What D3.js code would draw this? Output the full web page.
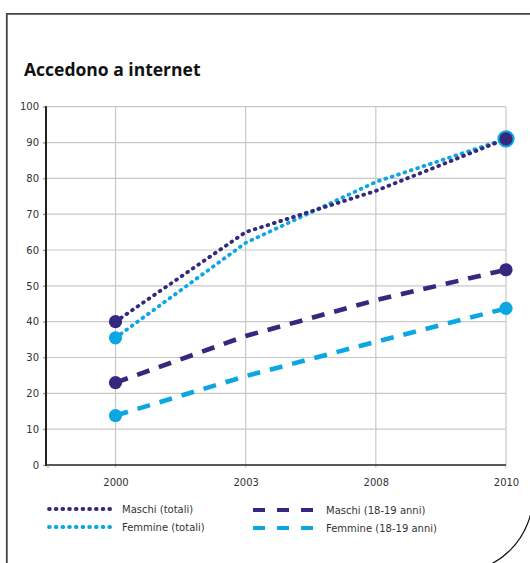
<!DOCTYPE html>
<html>
<head>
<meta charset="utf-8">
<script src="https://cdn.jsdelivr.net/npm/d3@7"></script>
<style>
  html, body { margin: 0; padding: 0; background: #fff; }
  svg { display: block; }
  .tick-label { font-family: "DejaVu Sans", sans-serif; font-size: 10px; fill: #333; }
  .legend-label { font-family: "DejaVu Sans", sans-serif; font-size: 10px; fill: #333; }
</style>
</head>
<body>
<svg id="chart" width="530" height="563"></svg>
<script>
// Internet access (%) by year
const years = ["2000", "2003", "2008", "2010"];
const maschiTotali = [40, 65, 76.5, 91];
const femmineTotali = [35.5, 62, 79, 91];
const maschi1819 = [23, 36, 46, 54.5];
const femmine1819 = [13.8, 24.8, 34.4, 43.7];
const yTicks = [0, 10, 20, 30, 40, 50, 60, 70, 80, 90, 100];
const seriesNames = ["Maschi (totali)", "Femmine (totali)", "Maschi (18-19 anni)", "Femmine (18-19 anni)"];

const navy = "#35297f";
const cyan = "#0ca6e2";

const series = [
  { name: seriesNames[0], values: maschiTotali, color: navy, style: "dot" },
  { name: seriesNames[1], values: femmineTotali, color: cyan, style: "dot" },
  { name: seriesNames[2], values: maschi1819, color: navy, style: "dash" },
  { name: seriesNames[3], values: femmine1819, color: cyan, style: "dash" }
];

const svg = d3.select("#chart");

// Frame: top and left edges, rounded lower-right corner
svg.append("path")
  .attr("d", "M6.8,570 L6.8,13.8 L540,13.8")
  .attr("fill", "none").attr("stroke", "#444").attr("stroke-width", 1.8);
svg.append("path")
  .attr("d", d3.arc()({ innerRadius: 78, outerRadius: 78, startAngle: Math.PI / 2, endAngle: Math.PI }))
  .attr("transform", "translate(455,495)")
  .attr("fill", "none").attr("stroke", "#111").attr("stroke-width", 1.2);

// Title
svg.append("text")
  .attr("x", 24).attr("y", 76)
  .attr("font-family", "'Open Sans', sans-serif")
  .attr("font-weight", "bold")
  .attr("font-size", 17.5)
  .attr("fill", "#111")
  .text("Accedono a internet");

const plotLeft = 46, plotRight = 506, plotTop = 106.7, plotBottom = 465;

const x = d3.scalePoint().domain(years).range([115.5, plotRight]);
const y = d3.scaleLinear().domain([0, 100]).range([plotBottom, plotTop]);

const g = svg.append("g");

// Horizontal grid
g.selectAll("line.hgrid")
  .data(yTicks.filter(t => t > 0))
  .join("line")
  .attr("x1", plotLeft - 3).attr("x2", plotRight)
  .attr("y1", d => y(d)).attr("y2", d => y(d))
  .attr("stroke", "#c8c8c8").attr("stroke-width", 1.2);

// Vertical grid at each year
g.selectAll("line.vgrid")
  .data(years)
  .join("line")
  .attr("x1", d => x(d)).attr("x2", d => x(d))
  .attr("y1", plotTop).attr("y2", plotBottom + 3)
  .attr("stroke", "#c8c8c8").attr("stroke-width", 1.2);

// Y axis
const yAxis = d3.axisLeft(y).tickValues(yTicks).tickSize(3).tickPadding(4);
const yG = g.append("g").attr("transform", `translate(${plotLeft},0)`).call(yAxis);
yG.select(".domain").remove();
yG.selectAll(".tick line").attr("stroke", "#999");
yG.selectAll(".tick text").attr("class", "tick-label").attr("font-family", null).attr("font-size", null).attr("fill", null).attr("x", -7);
g.append("line")
  .attr("x1", plotLeft).attr("x2", plotLeft)
  .attr("y1", plotTop - 0.5).attr("y2", plotBottom + 1)
  .attr("stroke", "#222").attr("stroke-width", 2);

// X axis
const xAxis = d3.axisBottom(x).tickSize(0).tickPadding(14);
const xG = g.append("g").attr("transform", `translate(0,${plotBottom})`).call(xAxis);
xG.select(".domain").remove();
xG.selectAll(".tick text").attr("class", "tick-label").attr("font-family", null).attr("font-size", null).attr("fill", null);
g.append("line")
  .attr("x1", plotLeft).attr("x2", plotRight)
  .attr("y1", plotBottom).attr("y2", plotBottom)
  .attr("stroke", "#222").attr("stroke-width", 1.5);
g.append("line")
  .attr("x1", plotLeft + 2).attr("x2", plotLeft + 2)
  .attr("y1", plotBottom).attr("y2", plotBottom + 3)
  .attr("stroke", "#999").attr("stroke-width", 1);

// Line styles
function applyStyle(sel, s) {
  if (s.style === "dot") {
    sel.attr("stroke-width", 3.8).attr("stroke-dasharray", "0.8,5.9").attr("stroke-linecap", "round");
  } else {
    sel.attr("stroke-width", 4.6).attr("stroke-dasharray", "13,10").attr("stroke-linecap", "butt");
  }
  return sel;
}

const line = d3.line().x((d, i) => x(years[i])).y(d => y(d));

// Draw dashed series first, dotted on top
[2, 3, 1, 0].forEach(k => {
  const s = series[k];
  const p = g.append("path")
    .attr("d", line(s.values))
    .attr("fill", "none")
    .attr("stroke", s.color);
  applyStyle(p, s);
});

// End markers (first and last year)
const markerIdx = [0, years.length - 1];
const markers = [];
series.forEach((s, k) => {
  markerIdx.forEach(i => markers.push({ k, i, v: s.values[i], color: s.color }));
});
// Cyan total marker at the last year is larger and sits under the navy one
markers.sort((a, b) => (a.k === 1 && a.i === 3 ? -1 : 0) - (b.k === 1 && b.i === 3 ? -1 : 0));
g.selectAll("circle.marker")
  .data(markers)
  .join("circle")
  .attr("cx", d => x(years[d.i]))
  .attr("cy", d => y(d.v))
  .attr("r", d => (d.k === 1 && d.i === 3) ? 8.6 : 6.6)
  .attr("fill", d => d.color);

// Legend
const legendItems = [
  { s: series[0], x0: 47, x1: 111, ty: 509, tx: 122 },
  { s: series[1], x0: 47, x1: 111, ty: 527, tx: 122 },
  { s: series[2], x0: 253, x1: 313, ty: 510, tx: 326 },
  { s: series[3], x0: 253, x1: 313, ty: 528, tx: 326 }
];
legendItems.forEach(it => {
  const p = svg.append("line")
    .attr("x1", it.x0 + (it.s.style === "dot" ? 2 : 0)).attr("x2", it.x1)
    .attr("y1", it.ty).attr("y2", it.ty)
    .attr("stroke", it.s.color);
  applyStyle(p, it.s);
  if (it.s.style === "dash") p.attr("stroke-width", 4).attr("stroke-dasharray", "12,12");
  svg.append("text")
    .attr("class", "legend-label")
    .attr("x", it.tx).attr("y", it.ty + 3.6)
    .text(it.s.name);
});
</script>
</body>
</html>
